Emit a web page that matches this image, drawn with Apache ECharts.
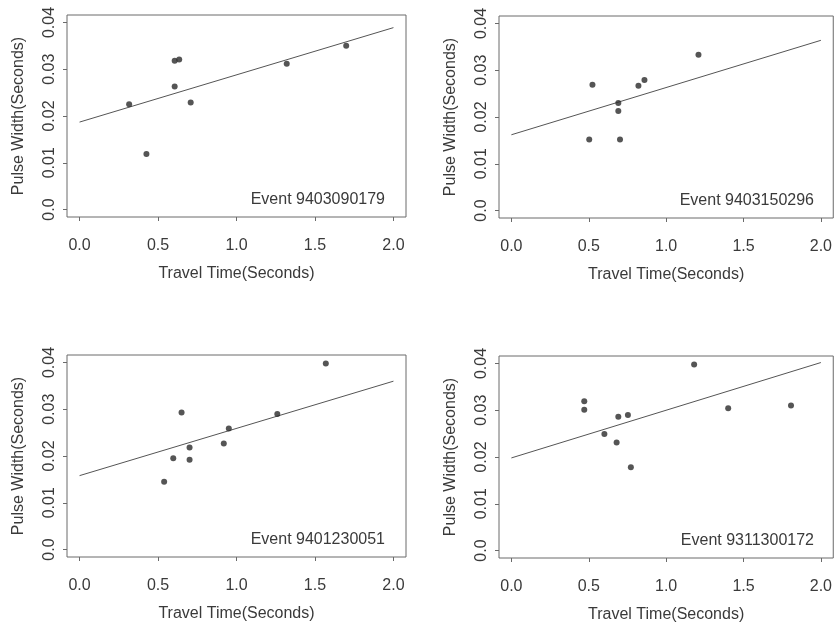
<!DOCTYPE html>
<html>
<head>
<meta charset="utf-8">
<script src="https://cdn.jsdelivr.net/npm/echarts@6/dist/echarts.min.js"></script>
<style>
html,body{margin:0;padding:0;background:#ffffff;}
#chart{width:835px;height:624px;}
</style>
</head>
<body>
<div id="chart"></div>
<script>
// ---- Tick labels ----
const xTicks = [0, 0.5, 1.0, 1.5, 2.0];
const yTicks = [0, 0.01, 0.02, 0.03, 0.04];
const xTitle = 'Travel Time(Seconds)';
const yTitle = 'Pulse Width(Seconds)';
const eventNames = ['Event 9403090179', 'Event 9403150296', 'Event 9401230051', 'Event 9311300172'];

// ---- Panel 1: Event 9403090179 ----
const ev1Travel = [0.316, 0.426, 0.606, 0.635, 0.606, 0.708, 1.320, 1.699];
const ev1Width  = [0.0225, 0.0119, 0.0318, 0.0321, 0.0263, 0.0229, 0.0312, 0.0350];
const ev1FitX = [0, 2];
const ev1FitY = [0.0187, 0.0389];

// ---- Panel 2: Event 9403150296 ----
const ev2Travel = [0.503, 0.524, 0.691, 0.691, 0.702, 0.821, 0.860, 1.209];
const ev2Width  = [0.0152, 0.0269, 0.0230, 0.0213, 0.0152, 0.0267, 0.0279, 0.0333];
const ev2FitX = [0, 2];
const ev2FitY = [0.0162, 0.0364];

// ---- Panel 3: Event 9401230051 ----
const ev3Travel = [0.539, 0.597, 0.650, 0.701, 0.701, 0.919, 0.951, 1.260, 1.569];
const ev3Width  = [0.0145, 0.0195, 0.0293, 0.0218, 0.0192, 0.0227, 0.0259, 0.0290, 0.0398];
const ev3FitX = [0, 2];
const ev3FitY = [0.0158, 0.0360];

// ---- Panel 4: Event 9311300172 ----
const ev4Travel = [0.471, 0.471, 0.601, 0.680, 0.691, 0.753, 0.772, 1.181, 1.401, 1.807];
const ev4Width  = [0.0319, 0.0301, 0.0249, 0.0231, 0.0286, 0.0290, 0.0178, 0.0398, 0.0304, 0.0310];
const ev4FitX = [0, 2];
const ev4FitY = [0.0198, 0.0402];

const panels = [
  {travel: ev1Travel, width: ev1Width, fx: ev1FitX, fy: ev1FitY, name: eventNames[0]},
  {travel: ev2Travel, width: ev2Width, fx: ev2FitX, fy: ev2FitY, name: eventNames[1]},
  {travel: ev3Travel, width: ev3Width, fx: ev3FitX, fy: ev3FitY, name: eventNames[2]},
  {travel: ev4Travel, width: ev4Width, fx: ev4FitX, fy: ev4FitY, name: eventNames[3]}
];

const gridPos = [
  {left: 67,  top: 15,  width: 339, height: 202},
  {left: 499, top: 16,  width: 336, height: 202},
  {left: 67,  top: 355, width: 339, height: 202},
  {left: 499, top: 356, width: 336, height: 202}
];

const FONT = "'Liberation Sans', Arial, Helvetica, sans-serif";
const TXT = '#3a3a3a';

const grids = [], xAxes = [], yAxes = [], series = [], graphics = [];
panels.forEach((p, i) => {
  const g = gridPos[i];
  grids.push({
    left: g.left, top: g.top, width: g.width, height: g.height,
    show: true, borderColor: '#6a6a6a', borderWidth: 1,
    backgroundColor: 'transparent', containLabel: false
  });
  xAxes.push({
    type: 'value', gridIndex: i, min: -0.08, max: 2.08,
    name: xTitle, nameLocation: 'middle', nameGap: 49,
    nameTextStyle: {fontFamily: FONT, fontSize: 16, color: TXT},
    axisLine: {show: false, onZero: false},
    axisTick: {show: true, customValues: xTicks, length: 4, lineStyle: {color: '#6a6a6a'}},
    axisLabel: {customValues: xTicks, margin: 21, fontFamily: FONT, fontSize: 16, color: TXT,
      formatter: v => Number(v).toFixed(1)},
    splitLine: {show: false}
  });
  yAxes.push({
    type: 'value', gridIndex: i, min: -0.0016, max: 0.0416,
    name: yTitle, nameLocation: 'middle', nameGap: 40, nameRotate: 90,
    nameTextStyle: {fontFamily: FONT, fontSize: 16, color: TXT},
    axisLine: {show: false, onZero: false},
    axisTick: {show: true, customValues: yTicks, length: 4, lineStyle: {color: '#6a6a6a'}},
    axisLabel: {customValues: yTicks, margin: 9, rotate: 90, fontFamily: FONT, fontSize: 16, color: TXT,
      formatter: v => (Math.abs(v) < 1e-9 ? '0.0' : Number(v).toFixed(2))},
    splitLine: {show: false}
  });
  series.push({
    type: 'line', xAxisIndex: i, yAxisIndex: i,
    data: p.fx.map((x, k) => [x, p.fy[k]]),
    showSymbol: false, symbol: 'none', silent: true,
    lineStyle: {color: '#555555', width: 1}, z: 2
  });
  series.push({
    type: 'scatter', xAxisIndex: i, yAxisIndex: i,
    data: p.travel.map((x, k) => [x, p.width[k]]),
    symbol: 'circle', symbolSize: 6,
    itemStyle: {color: '#2a2a2a'}, z: 3
  });
  graphics.push({
    type: 'text',
    x: g.left + g.width - 21, y: g.top + g.height - 17,
    style: {text: p.name, fontFamily: FONT, fontSize: 16, fill: TXT,
      align: 'right', verticalAlign: 'middle'}
  });
});

const chart = echarts.init(document.getElementById('chart'), null, {renderer: 'canvas'});
chart.setOption({
  animation: false,
  backgroundColor: '#ffffff',
  grid: grids,
  xAxis: xAxes,
  yAxis: yAxes,
  series: series,
  graphic: graphics
});
</script>
</body>
</html>
